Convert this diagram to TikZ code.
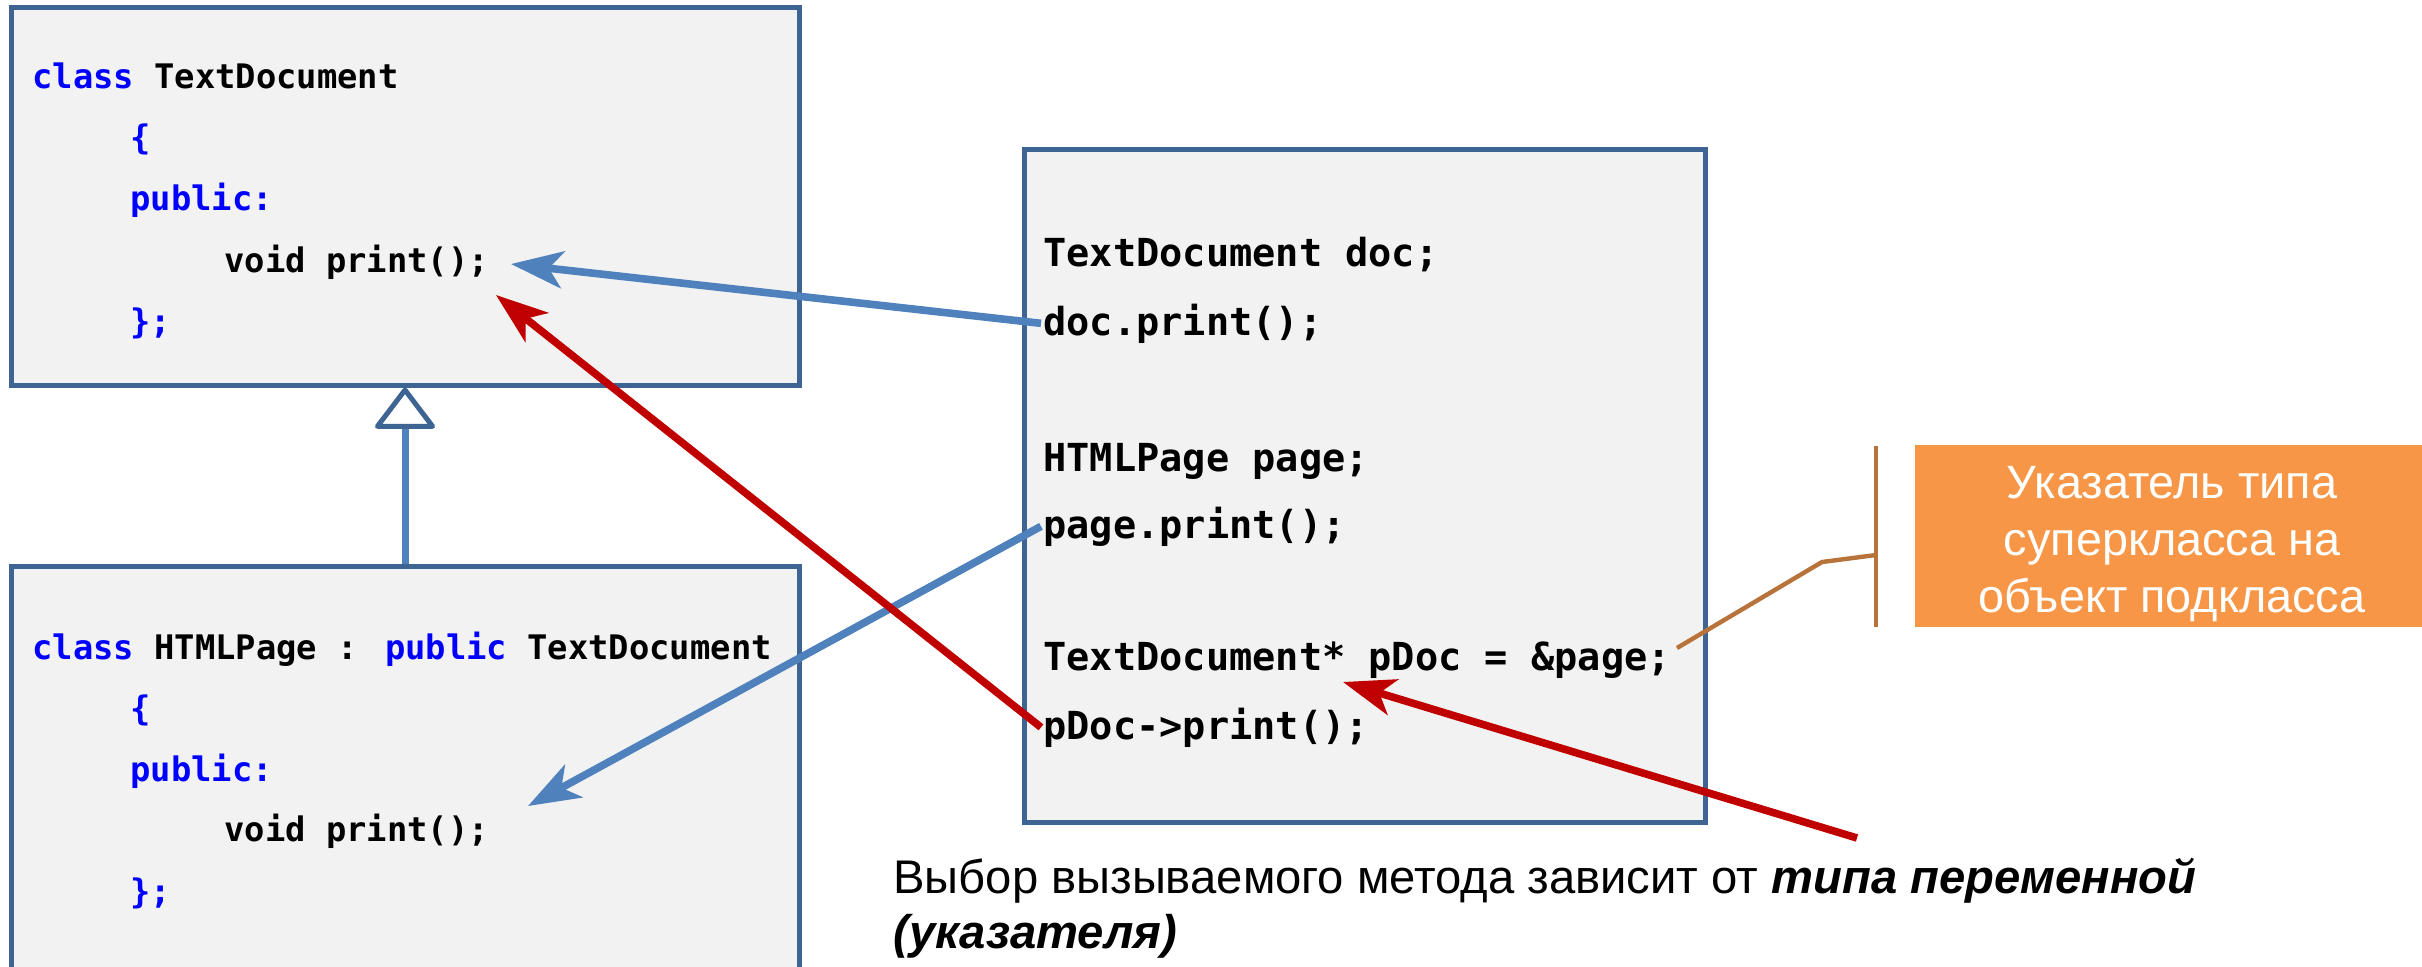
\documentclass[tikz,border=0pt]{standalone}
\usepackage{fontspec}
\setmainfont{Liberation Sans}
\newfontfamily\codefont{DejaVu Sans Mono}
\usetikzlibrary{arrows.meta}

\definecolor{boxfill}{HTML}{F2F2F2}
\definecolor{boxborder}{HTML}{3E6494}
\definecolor{kwblue}{HTML}{0000FF}
\definecolor{callblue}{HTML}{4F81BD}
\definecolor{callred}{HTML}{C00000}
\definecolor{notefill}{HTML}{F79646}
\definecolor{notebrown}{HTML}{B7733A}

\begin{document}
\begin{tikzpicture}[x=0.5pt, y=-0.5pt,
  classbox/.style={draw=boxborder, line width=2.5pt, fill=boxfill, inner sep=0pt},
  code/.style={anchor=base west, inner xsep=1pt, inner ysep=0pt,
    font=\codefont\bfseries\fontsize{16.9pt}{20pt}\selectfont},
  bigcode/.style={anchor=base west, inner xsep=1pt, inner ysep=0pt,
    font=\codefont\bfseries\fontsize{19.3pt}{23pt}\selectfont},
  tip/.style={-{Stealth[length=26pt, width=18.5pt, inset=7pt]}},
  bluecall/.style={tip, draw=callblue, line width=3.8pt},
  redcall/.style={tip, draw=callred, line width=3.8pt},
  inherit/.style={draw=callblue, line width=3.5pt,
    -{Triangle[length=21.5pt, width=32pt, fill=white, color=boxborder, line width=2.5pt, round]}},
  bracket/.style={draw=notebrown, line width=2.2pt},
  notetext/.style={text=white, align=center, inner sep=0pt,
    font=\fontsize{23.4pt}{28.3pt}\selectfont},
  remark/.style={anchor=base west, inner sep=0pt, font=\fontsize{23.6pt}{28pt}\selectfont},
]
\clip (0,0) rectangle (2422,966);
\fill[white] (0,0) rectangle (2422,966);

% class boxes and the usage box
\node[classbox, minimum width=394pt, minimum height=189pt] (base) at (405,196) {};
\node[classbox, minimum width=394pt, minimum height=267pt] (derived) at (405,833) {};
\node[classbox, minimum width=340.5pt, minimum height=336.5pt] (usage) at (1364.5,485.5) {};

% base class
\node[code] (b1) at (30,88) {\textcolor{kwblue}{class} TextDocument};
\node[code] (b2) at (128,149) {\textcolor{kwblue}{\{}};
\node[code] (b3) at (128,210) {\textcolor{kwblue}{public:}};
\node[code] (bprint) at (222,272) {void print();};
\node[code] (b5) at (128,333) {\textcolor{kwblue}{\};}};

% derived class
\node[code] (d1) at (30,659) {\textcolor{kwblue}{class} HTMLPage : \textcolor{kwblue}{public} TextDocument};
\node[code] (d2) at (128,720) {\textcolor{kwblue}{\{}};
\node[code] (d3) at (128,781) {\textcolor{kwblue}{public:}};
\node[code] (dprint) at (222,841) {void print();};
\node[code] (d5) at (128,903) {\textcolor{kwblue}{\};}};

% usage code
\node[bigcode] (docdecl) at (1041,266) {TextDocument doc;};
\node[bigcode] (docp) at (1041,335) {doc.print();};
\node[bigcode] (pagedecl) at (1041,471) {HTMLPage page;};
\node[bigcode] (pagep) at (1041,538) {page.print();};
\node[bigcode] (pdecl) at (1041,670) {TextDocument* pDoc = \&page;};
\node[bigcode] (pdocp) at (1041,739) {pDoc->print();};

% inheritance
\draw[inherit] (derived.north) -- (base.south);

% call targets
\coordinate (tipbase) at (511,264);
\coordinate (tipderived) at (528,806);
\coordinate (tipvirt) at (496,295);
\coordinate (tipdecl) at (1343,682);
\coordinate (remarkend) at (1857,838);

\draw[bluecall] (docp.west) -- (tipbase);
\draw[bluecall] (pagep.west) -- (tipderived);
\draw[redcall] (pdocp.west) -- (tipvirt);
\draw[redcall] (remarkend) -- (tipdecl);

% note with bracket callout
\fill[notefill] (1915,445) rectangle (2440,627);
\node[notetext] (note) at (2172,544)
  {Указатель типа\\суперкласса на\\объект подкласса};
\coordinate (calloutstart) at (1677,648);
\coordinate (bend) at (1822,562);
\coordinate (barmid) at (1876,555);
\draw[bracket] (calloutstart) -- (bend) -- (barmid);
\draw[bracket] (1876,446) -- (1876,627);

% remark
\node[remark] (remark1) at (893,893) {Выбор вызываемого метода зависит от \textbf{\textit{типа переменной}}};
\node[remark] (remark2) at (893,948) {\textbf{\textit{(указателя)}}};
\end{tikzpicture}
\end{document}
